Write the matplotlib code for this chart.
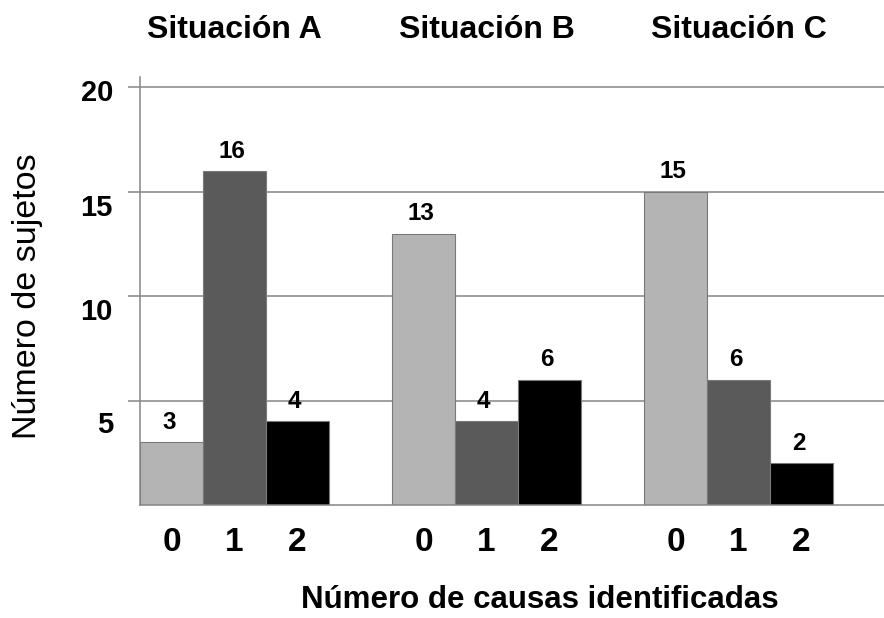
import numpy as np
import matplotlib
matplotlib.use("Agg")
import matplotlib.pyplot as plt
import matplotlib.transforms as mtransforms

plt.rcParams['font.family'] = ['Liberation Sans', 'DejaVu Sans']

# data
situaciones = ["Situación A", "Situación B", "Situación C"]
causas = ["0", "1", "2"]
sujetos = [[3, 16, 4],
           [13, 4, 6],
           [15, 6, 2]]
colores = ["#b4b4b4", "#5a5a5a", "#000000"]
yticks = [5, 10, 15, 20]
# the y labels in the original sit a bit below their gridlines (pixels)
ylabel_shift = [24, 16, 16, 6]

fig = plt.figure(figsize=(8.84, 6.18), dpi=100)
ax = fig.add_axes([140 / 884, 1 - 505 / 618, 1 - 140 / 884, (505 - 77) / 618])

grid_col = "#858585"
for v in yticks:
    ax.axhline(v, color=grid_col, lw=1.1, zorder=0)

xpos = []
for g, vals in enumerate(sujetos):
    for i, v in enumerate(vals):
        x = g * 4 + i + 0.5
        xpos.append(x)
        ax.bar(x, v, width=1.0, color=colores[i], edgecolor="#7a7a7a",
               linewidth=0.8, zorder=2)
        ax.annotate(str(v), (x, v), xytext=(-2, 6), textcoords="offset points",
                    ha="center", va="bottom", fontsize=17.5, fontweight="bold")
    ax.text(g * 4 + 1.5, 1.0 - 30 / 618, situaciones[g],
            transform=mtransforms.blended_transform_factory(ax.transData, fig.transFigure),
            ha="center", va="center", fontsize=23, fontweight="bold")

ax.set_xlim(0, 744 / 63)
ax.set_ylim(0, 20.5)

ax.set_xticks(xpos)
ax.set_xticklabels(causas * 3, fontsize=24, fontweight="bold")
ax.tick_params(axis="x", length=0, pad=16)

ax.set_yticks(yticks)
ax.set_yticklabels([])
ax.tick_params(axis="y", length=8.6, width=1.1, color=grid_col, direction="out")

for v, s in zip(yticks, ylabel_shift):
    tr = mtransforms.offset_copy(ax.get_yaxis_transform(), fig=fig,
                                 x=-27, y=-s, units="dots")
    ax.text(0, v, str(v), transform=tr, ha="right", va="center",
            fontsize=21, fontweight="bold")

for side in ["top", "right"]:
    ax.spines[side].set_visible(False)
ax.spines["left"].set_color(grid_col)
ax.spines["bottom"].set_color(grid_col)
ax.spines["left"].set_linewidth(1.1)
ax.spines["bottom"].set_linewidth(1.1)

fig.text(28 / 884, 1 - 296 / 618, "Número de sujetos", rotation=90,
         ha="center", va="center", fontsize=24.5)
fig.text(540 / 884, 1 - 600 / 618, "Número de causas identificadas",
         ha="center", va="center", fontsize=22.5, fontweight="bold")

fig.savefig("out.png", dpi=100)
